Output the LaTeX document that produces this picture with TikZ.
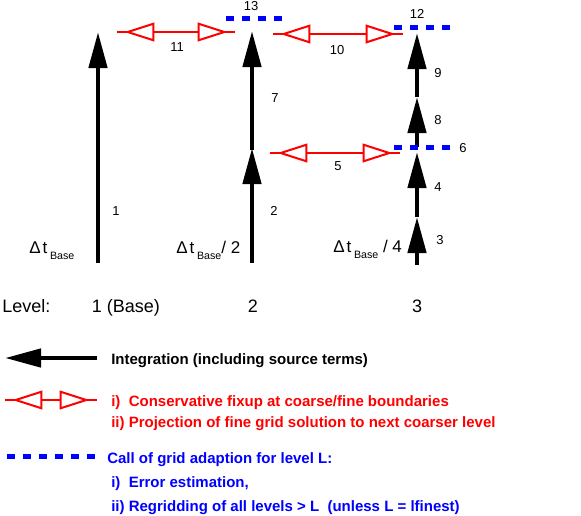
\documentclass[tikz,border=0pt]{standalone}
\usepackage{fontspec}
\setmainfont{Liberation Sans}
\usetikzlibrary{arrows.meta}

\tikzset{
  integ/.style={line width=3.4pt, -{Triangle[length=27pt,width=13.5pt]}},
  fixup/.style={red, line width=1.5pt},
  fixtips/.style={fixup, {Triangle[fill=white,length=22.5pt,width=14pt]}-{Triangle[fill=white,length=22.5pt,width=14pt]}, shorten <=5.5pt, shorten >=5.5pt},
  adapt/.style={blue, line width=3.75pt, dash pattern=on 6pt off 6pt},
  num/.style={font=\fontsize{9.75}{11}\selectfont, inner sep=0pt},
  lvl/.style={font=\fontsize{13.5}{15}\selectfont, inner sep=0pt, anchor=base},
  dt/.style={font=\fontsize{12.75}{14}\selectfont, inner sep=0pt, anchor=base west},
  legend/.style={font=\fontsize{11.25}{13}\selectfont\bfseries, inner sep=0pt, anchor=base west}
}
\newcommand{\subbase}{\kern2pt\raisebox{-4.5pt}{\fontsize{8}{9}\selectfont Base}}

\begin{document}
\begin{tikzpicture}[x=0.75pt,y=-0.75pt]
  \useasboundingbox (0,0) rectangle (581,515);

  % integration steps
  \coordinate (a1) at (98,263);  \coordinate (b1) at (98,32);
  \coordinate (a2) at (252,263); \coordinate (m2) at (252,148);
  \coordinate (n2) at (252,150); \coordinate (b2) at (252,31);
  \coordinate (a3) at (417,265); \coordinate (p3) at (417,217);
  \coordinate (m3) at (417,152); \coordinate (n3) at (417,147);
  \coordinate (q3) at (417,97);  \coordinate (b3) at (417,33);
  \draw[integ] (a1) -- (b1);
  \draw[integ] (a2) -- (m2);
  \draw[integ] (n2) -- (b2);
  \draw[integ] (a3) -- (p3);
  \draw[integ] (p3) -- (m3);
  \draw[integ] (n3) -- (q3);
  \draw[integ] (q3) -- (b3);

  % fixup / projection
  \coordinate (f11a) at (117,32);  \coordinate (f11b) at (235,32);
  \coordinate (f10a) at (273,34);  \coordinate (f10b) at (403,34);
  \coordinate (f5a) at (270,153);  \coordinate (f5b) at (400,153);
  \draw[fixup] (f11a) -- (f11b);  \draw[fixtips] (f11a) -- (f11b);
  \draw[fixup] (f10a) -- (f10b);  \draw[fixtips] (f10a) -- (f10b);
  \draw[fixup] (f5a) -- (f5b);    \draw[fixtips] (f5a) -- (f5b);

  % grid adaption
  \coordinate (g13a) at (226,18);  \coordinate (g13b) at (282,18);
  \coordinate (g12a) at (394,27);  \coordinate (g12b) at (450,27);
  \coordinate (g6a) at (394,147);  \coordinate (g6b) at (450,147);
  \draw[adapt] (g13a) -- (g13b);
  \draw[adapt] (g12a) -- (g12b);
  \draw[adapt] (g6a) -- (g6b);

  % step numbers
  \node[num] (s1) at (116,211) {1};
  \node[num] (s2) at (274,211) {2};
  \node[num] (s3) at (440,240) {3};
  \node[num] (s4) at (438,187) {4};
  \node[num] (s5) at (338,166) {5};
  \node[num] (s6) at (463,148) {6};
  \node[num] (s7) at (275,98) {7};
  \node[num] (s8) at (438,120) {8};
  \node[num] (s9) at (438,73) {9};
  \node[num] (s10) at (337,50) {10};
  \node[num] (s11) at (177,47) {11};
  \node[num] (s12) at (417,14) {12};
  \node[num] (s13) at (251,6) {13};

  % time steps
  \node[dt] (dt1) at (29,253) {Δ\kern1.5pt t\subbase};
  \node[dt] (dt2) at (176,253) {Δ\kern1.5pt t\subbase/ 2};
  \node[dt] (dt3) at (333,252) {Δ\kern1.5pt t\subbase\ / 4};

  % levels
  \node[lvl, anchor=base west] (lv) at (2,312) {Level:};
  \node[lvl] (lv1) at (126,312) {1 (Base)};
  \node[lvl] (lv2) at (253,312) {2};
  \node[lvl] (lv3) at (417,312) {3};

  % legend
  \coordinate (li1) at (97,358);  \coordinate (li2) at (5,358);
  \draw[integ] (li1) -- (li2);
  \node[legend] (ti) at (111,364) {Integration (including source terms)};
  \coordinate (lf1) at (5,400);   \coordinate (lf2) at (97,400);
  \draw[fixup] (lf1) -- (lf2);  \draw[fixtips] (lf1) -- (lf2);
  \node[legend, red] (tf1) at (111,406) {i)\ \ Conservative fixup at coarse/fine boundaries};
  \node[legend, red] (tf2) at (111,427) {ii) Projection of fine grid solution to next coarser level};
  \coordinate (lg1) at (7,456);   \coordinate (lg2) at (95,456);
  \draw[adapt] (lg1) -- (lg2);
  \node[legend, blue] (tg1) at (107,463) {Call of grid adaption for level L:};
  \node[legend, blue] (tg2) at (111,487) {i)\ \ Error estimation,};
  \node[legend, blue] (tg3) at (111,511) {ii) Regridding of all levels > L\ \ (unless L = lfinest)};
\end{tikzpicture}
\end{document}
